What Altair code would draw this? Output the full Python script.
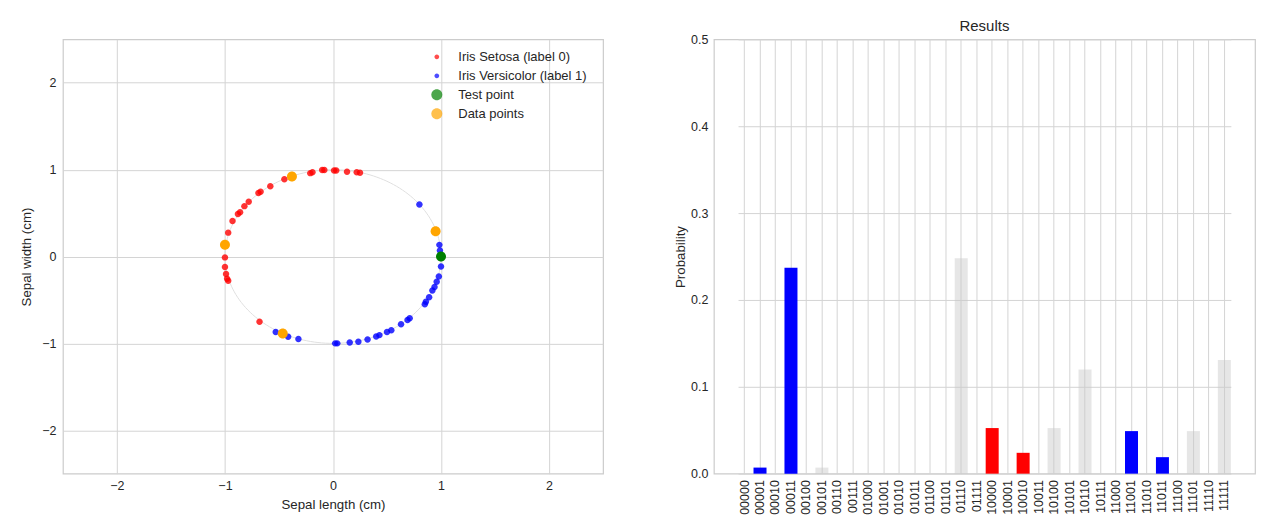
import altair as alt
import pandas as pd

# ---------------- Left panel data ----------------
setosa_x = [0.25, 0.22, 0.13, 0.03, 0.01, -0.08, -0.10, -0.19, -0.21, -0.45, -0.58, -0.67,
            -0.69, -0.78, -0.82, -0.86, -0.88, -0.93, -0.97, -1.00, -1.00, -0.99, -0.98,
            -0.97, -0.68]
setosa_y = [0.965, 0.97, 0.977, 0.99, 0.99, 0.997, 0.995, 0.97, 0.96, 0.89, 0.81, 0.745,
            0.73, 0.63, 0.58, 0.51, 0.49, 0.41, 0.275, -0.01, -0.12, -0.20, -0.255,
            -0.28, -0.75]

versicolor_x = [0.80, 0.985, 0.99, 1.00, 0.98, 0.96, 0.94, 0.92, 0.89, 0.86, 0.85, 0.71,
                0.69, 0.63, 0.54, 0.50, 0.43, 0.40, 0.32, 0.235, 0.155, 0.04, 0.02,
                -0.32, -0.415, -0.53]
versicolor_y = [0.60, 0.134, 0.07, -0.115, -0.23, -0.29, -0.35, -0.39, -0.47, -0.52, -0.55,
                -0.71, -0.73, -0.78, -0.85, -0.87, -0.905, -0.92, -0.955, -0.98, -0.99,
                -1.00, -1.00, -0.95, -0.925, -0.87]

test_x = [1.0]
test_y = [0.0]

data_x = [-0.38, -1.00, 0.95, -0.465]
data_y = [0.92, 0.135, 0.29, -0.885]

series_names = ["Iris Setosa (label 0)", "Iris Versicolor (label 1)", "Test point", "Data points"]
series_colors = ["#ff0000", "#0000ff", "#008000", "#ffa500"]
series_sizes = [228, 228, 100, 100]
series_opacity = [0.8, 0.8, 1.0, 1.0]

SMALL_DOT = "M-0.43,0A0.43,0.43 0 1,1 0.43,0A0.43,0.43 0 1,1 -0.43,0Z"
BIG_DOT = "M-1,0A1,1 0 1,1 1,0A1,1 0 1,1 -1,0Z"
series_shapes = [SMALL_DOT, SMALL_DOT, BIG_DOT, BIG_DOT]

axis_ticks = [-2, -1, 0, 1, 2]

# ---------------- Right panel data ----------------
states = ["00000", "00001", "00010", "00011", "00100", "00101", "00110", "00111",
          "01000", "01001", "01010", "01011", "01100", "01101", "01110", "01111",
          "10000", "10001", "10010", "10011", "10100", "10101", "10110", "10111",
          "11000", "11001", "11010", "11011", "11100", "11101", "11110", "11111"]
probabilities = [0.0, 0.007, 0.0, 0.237, 0.0, 0.007, 0.0, 0.0,
                 0.0, 0.0, 0.0, 0.0, 0.0, 0.0, 0.248, 0.0,
                 0.0525, 0.0, 0.024, 0.0, 0.0525, 0.0, 0.12, 0.0,
                 0.0, 0.049, 0.0, 0.019, 0.0, 0.049, 0.0, 0.131]
bar_class = ["g", "b", "g", "b", "g", "g", "g", "g",
             "g", "g", "g", "g", "g", "g", "g", "g",
             "r", "g", "r", "g", "g", "g", "g", "g",
             "g", "b", "g", "b", "g", "g", "g", "g"]
prob_ticks = [0.0, 0.1, 0.2, 0.3, 0.4, 0.5]

# ---------------- Build tables ----------------
rows = []
for k, (name, xs, ys) in enumerate([(series_names[0], setosa_x, setosa_y),
                                     (series_names[1], versicolor_x, versicolor_y),
                                     (series_names[2], test_x, test_y),
                                     (series_names[3], data_x, data_y)]):
    for xv, yv in zip(xs, ys):
        rows.append({"x": xv, "y": yv, "series": name, "k": k,
                     "sz": series_sizes[k], "op": series_opacity[k]})
pts = pd.DataFrame(rows)

bars = pd.DataFrame({"state": states, "p": probabilities, "cls": bar_class})

FONT = "Liberation Sans"
TEXT = "#262626"
GRID = "#d4d4d4"

xscale = alt.Scale(domain=[-2.5, 2.5], nice=False, zero=False)
yscale = alt.Scale(domain=[-2.5, 2.5], nice=False, zero=False)
xaxis = alt.Axis(values=axis_ticks, title="Sepal length (cm)", format="d",
                 labelPadding=6, titlePadding=5)
yaxis = alt.Axis(values=axis_ticks, title="Sepal width (cm)", format="d",
                 labelPadding=7, titlePadding=8)

circle = alt.Chart(alt.sequence(0, 362, 2, as_="deg")).transform_calculate(
    cx="cos(datum.deg*PI/180)", cy="sin(datum.deg*PI/180)"
).mark_line(color="#e0e0e0", strokeWidth=1).encode(
    x=alt.X("cx:Q", scale=xscale, axis=xaxis),
    y=alt.Y("cy:Q", scale=yscale, axis=yaxis),
    order="deg:Q",
)

leg = alt.Legend(orient="none", legendX=368, legendY=11, title=None, padding=0,
                 labelFont=FONT, labelFontSize=13, labelColor=TEXT, labelOffset=15,
                 rowPadding=5, symbolSize=121, symbolStrokeWidth=0)

points = alt.Chart(pts).mark_point(filled=True, strokeWidth=0).encode(
    x=alt.X("x:Q", scale=xscale, axis=xaxis),
    y=alt.Y("y:Q", scale=yscale, axis=yaxis),
    color=alt.Color("series:N", scale=alt.Scale(domain=series_names, range=series_colors), legend=leg),
    shape=alt.Shape("series:N", scale=alt.Scale(domain=series_names, range=series_shapes), legend=leg),
    size=alt.Size("sz:Q", scale=None),
    opacity=alt.Opacity("op:Q", scale=None),
    order=alt.Order("k:Q"),
)

left = alt.layer(circle, points).properties(
    width=541, height=435,
    title=alt.TitleParams(" ", fontSize=15, font=FONT, offset=-1),
)

right = alt.Chart(bars).mark_bar().encode(
    x=alt.X("state:N", sort=states,
            scale=alt.Scale(paddingInner=0.16, paddingOuter=0, range=[24.2, 517.8]),
            axis=alt.Axis(title=None, labelAngle=-90, labelPadding=6, bandPosition=0.5)),
    y=alt.Y("p:Q", scale=alt.Scale(domain=[0, 0.5], nice=False),
            axis=alt.Axis(values=prob_ticks, format=".1f", title="Probability",
                          labelPadding=6, titlePadding=3)),
    color=alt.Color("cls:N", scale=alt.Scale(domain=["b", "r", "g"],
                                             range=["#0000ff", "#ff0000", "#c8c8c8"]),
                    legend=None),
    opacity=alt.condition("datum.cls == 'g'", alt.value(0.45), alt.value(1.0)),
).properties(
    width=542, height=435,
    title=alt.TitleParams("Results", fontSize=15, font=FONT, color=TEXT, fontWeight="normal", offset=-1),
)

chart = alt.hconcat(left, right, spacing=69).resolve_scale(
    color="independent", shape="independent"
).resolve_legend(
    color="independent", shape="independent"
).properties(
    padding={"left": 11, "top": 10, "right": 5, "bottom": 5}
).configure_view(
    stroke="#cccccc", strokeWidth=1.2
).configure_axis(
    grid=True, gridColor=GRID, gridWidth=1, domain=False, ticks=False,
    labelFont=FONT, labelFontSize=12.5, labelColor=TEXT,
    titleFont=FONT, titleFontSize=13.3, titleColor=TEXT, titleFontWeight="normal",
).configure_title(font=FONT)

chart.save("out.html", embed_options={"renderer": "svg", "actions": False})
